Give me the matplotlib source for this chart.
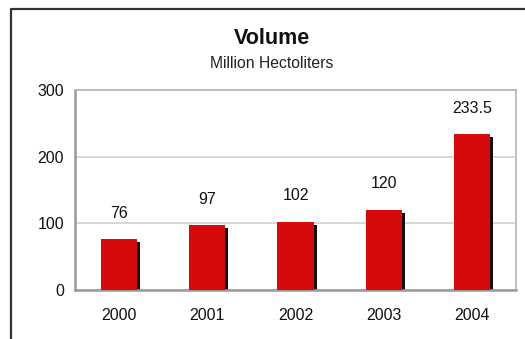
import matplotlib
matplotlib.use("Agg")
import matplotlib.pyplot as plt
from matplotlib.lines import Line2D

years = ["2000", "2001", "2002", "2003", "2004"]
volume = [76, 97, 102, 120, 233.5]
value_labels = ["76", "97", "102", "120", "233.5"]
y_ticks = [0, 100, 200, 300]

plt.rcParams['font.family'] = ['Liberation Sans', 'DejaVu Sans']

W, H = 525, 339
fig = plt.figure(figsize=(W / 100, H / 100), dpi=100)
fig.patch.set_facecolor('white')

# plot area in pixel coords: left 75, right 516, top 90, bottom 290
ax = fig.add_axes([75 / W, 1 - 290 / H, (516 - 75) / W, (290 - 90) / H])

x = list(range(len(years)))
bw = 0.41
# dark drop shadow behind each bar
ax.bar([i + 0.035 for i in x], [v - 4 for v in volume], width=bw,
       color='#111111', zorder=2)
ax.bar(x, volume, width=bw, color='#d50b0b', zorder=3)

for i, (v, lab) in enumerate(zip(volume, value_labels)):
    ax.annotate(lab, (i, v), xytext=(0, 26), textcoords='offset pixels',
                ha='center', va='center', fontsize=11.5, color='#111111')

ax.set_xlim(-0.5, len(years) - 0.5)
ax.set_ylim(0, 300)
ax.set_yticks(y_ticks)
ax.set_xticks(x)
ax.set_xticklabels(years)
ax.tick_params(axis='both', length=0, labelsize=11.5, colors='#111111')
ax.tick_params(axis='y', pad=8)
ax.tick_params(axis='x', pad=13)

ax.yaxis.grid(True, color='#cfcfcf', linewidth=1.2, zorder=0)
ax.set_axisbelow(True)
for side in ['left', 'bottom']:
    ax.spines[side].set_color('#999999')
    ax.spines[side].set_linewidth(1.8)
for side in ['top', 'right']:
    ax.spines[side].set_color('#b5b5b5')
    ax.spines[side].set_linewidth(1.2)

fig.text(272 / W, 1 - 39 / H, "Volume", ha='center', va='center',
         fontsize=15.5, fontweight='bold', color='#111111')
fig.text(272 / W, 1 - 64 / H, "Million Hectoliters", ha='center',
         va='center', fontsize=11.3, color='#222222')

# outer frame: left and top edges
fig.add_artist(Line2D([11 / W, 11 / W, 1.0], [0.0, 1 - 9 / H, 1 - 9 / H],
                      transform=fig.transFigure, color='#333333',
                      linewidth=1.6))

fig.savefig("out.png", dpi=100)
